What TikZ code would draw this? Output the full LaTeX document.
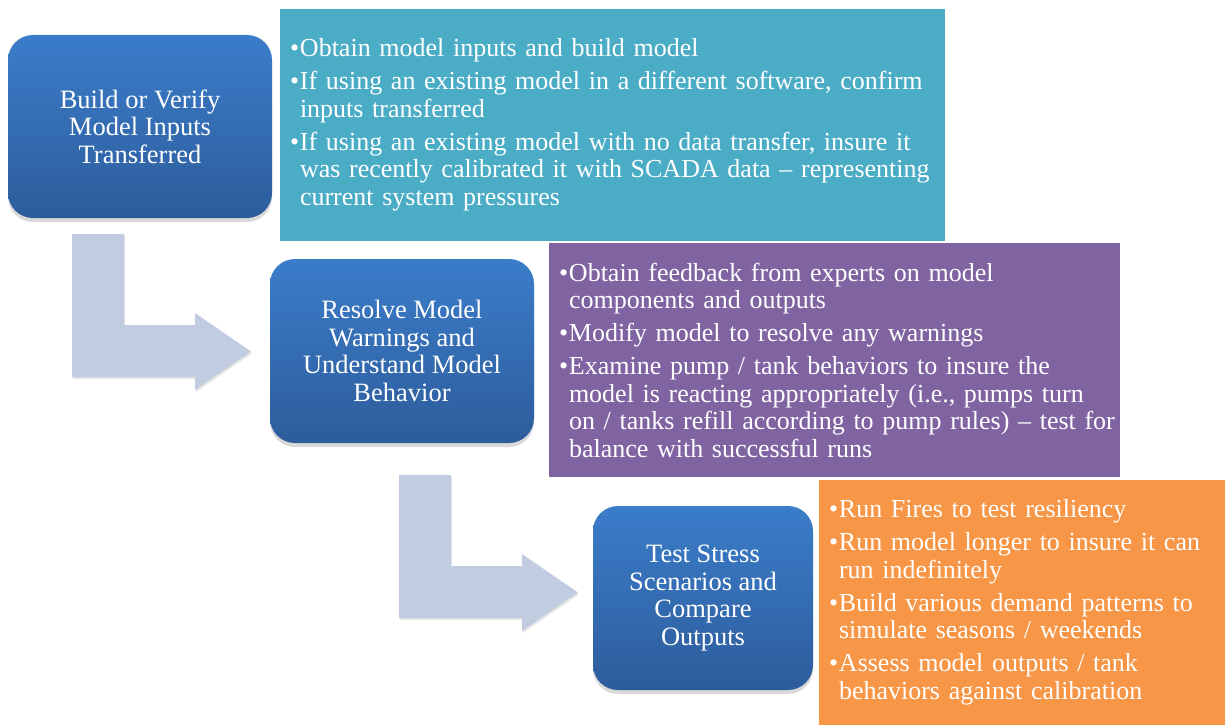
\documentclass[tikz,border=0pt]{standalone}
\usepackage{fontspec}
\setmainfont{Liberation Serif}
\usetikzlibrary{shadows}
\definecolor{steptop}{HTML}{3B7DCA}
\definecolor{stepbot}{HTML}{2D5C9B}
\definecolor{tealnote}{HTML}{4BACC6}
\definecolor{purplenote}{HTML}{8064A2}
\definecolor{orangenote}{HTML}{F79646}
\definecolor{bendfill}{HTML}{C1CCE1}
\newcommand{\bul}{\makebox[10pt][l]{•}}
\newcommand{\cont}{\hspace*{10pt}}
\tikzset{
  stepbox/.style={rounded corners=25pt, top color=steptop, bottom color=stepbot,
                  draw=none, text=white, align=center, inner sep=0pt,
                  font=\fontsize{26.5}{27.5}\selectfont,
                  drop shadow={shadow xshift=0pt, shadow yshift=-4pt, opacity=0.3}},
  notebox/.style={draw=none, text=white, align=left, inner xsep=10pt, inner ysep=0pt,
                  font=\fontsize{26}{27.5}\selectfont,
                  execute at begin node={\hyphenpenalty=10000\relax}},
  bendarrow/.style={fill=bendfill, draw=none,
                    drop shadow={shadow xshift=1pt, shadow yshift=-2pt, opacity=0.2}},
}

\begin{document}
\begin{tikzpicture}[x=1pt, y=-1pt]
  \useasboundingbox (0,0) rectangle (1225,725);

  % bent arrows between the steps
  \foreach \dx/\dy in {0/0, 327/241}
    \fill[bendarrow, shift={(\dx,\dy)}]
      (72,234) -- (124,234) -- (124,325) -- (195,325) -- (195,313) -- (251,351.5)
      -- (195,390) -- (195,377) -- (72,377) -- cycle;

  % notes
  \node[notebox, fill=tealnote, text width=645pt, minimum height=232pt]
    (n1) at (612.5,125) {%
      \bul Obtain model inputs and build model\\[5.5pt]
      \bul If using an existing model in a different software, confirm\\
      \cont inputs transferred\\[5.5pt]
      \bul If using an existing model with no data transfer, insure it\\
      \cont was recently calibrated it with SCADA data – representing\\
      \cont current system pressures};
  \node[notebox, fill=purplenote, text width=551pt, minimum height=234pt]
    (n2) at (834.5,360) {%
      \bul Obtain feedback from experts on model\\
      \cont components and outputs\\[5.5pt]
      \bul Modify model to resolve any warnings\\[5.5pt]
      \bul Examine pump / tank behaviors to insure the\\
      \cont model is reacting appropriately (i.e., pumps turn\\
      \cont \mbox{on / tanks refill according to pump rules) – test for}\\
      \cont balance with successful runs};
  \node[notebox, fill=orangenote, text width=386pt, minimum height=245pt]
    (n3) at (1022,602.5) {%
      \bul Run Fires to test resiliency\\[5.5pt]
      \bul Run model longer to insure it can\\
      \cont run indefinitely\\[5.5pt]
      \bul Build various demand patterns to\\
      \cont simulate seasons / weekends\\[5.5pt]
      \bul Assess model outputs / tank\\
      \cont behaviors against calibration};

  % steps
  \node[stepbox, minimum width=264pt, minimum height=183pt] (s1) at (140,126.5)
    {Build or Verify\\Model Inputs\\Transferred};
  \node[stepbox, minimum width=264pt, minimum height=184pt] (s2) at (402,351)
    {Resolve Model\\Warnings and\\Understand Model\\Behavior};
  \node[stepbox, minimum width=220pt, minimum height=184pt] (s3) at (703,598)
    {Test Stress\\Scenarios and\\Compare\\Outputs};
\end{tikzpicture}
\end{document}
